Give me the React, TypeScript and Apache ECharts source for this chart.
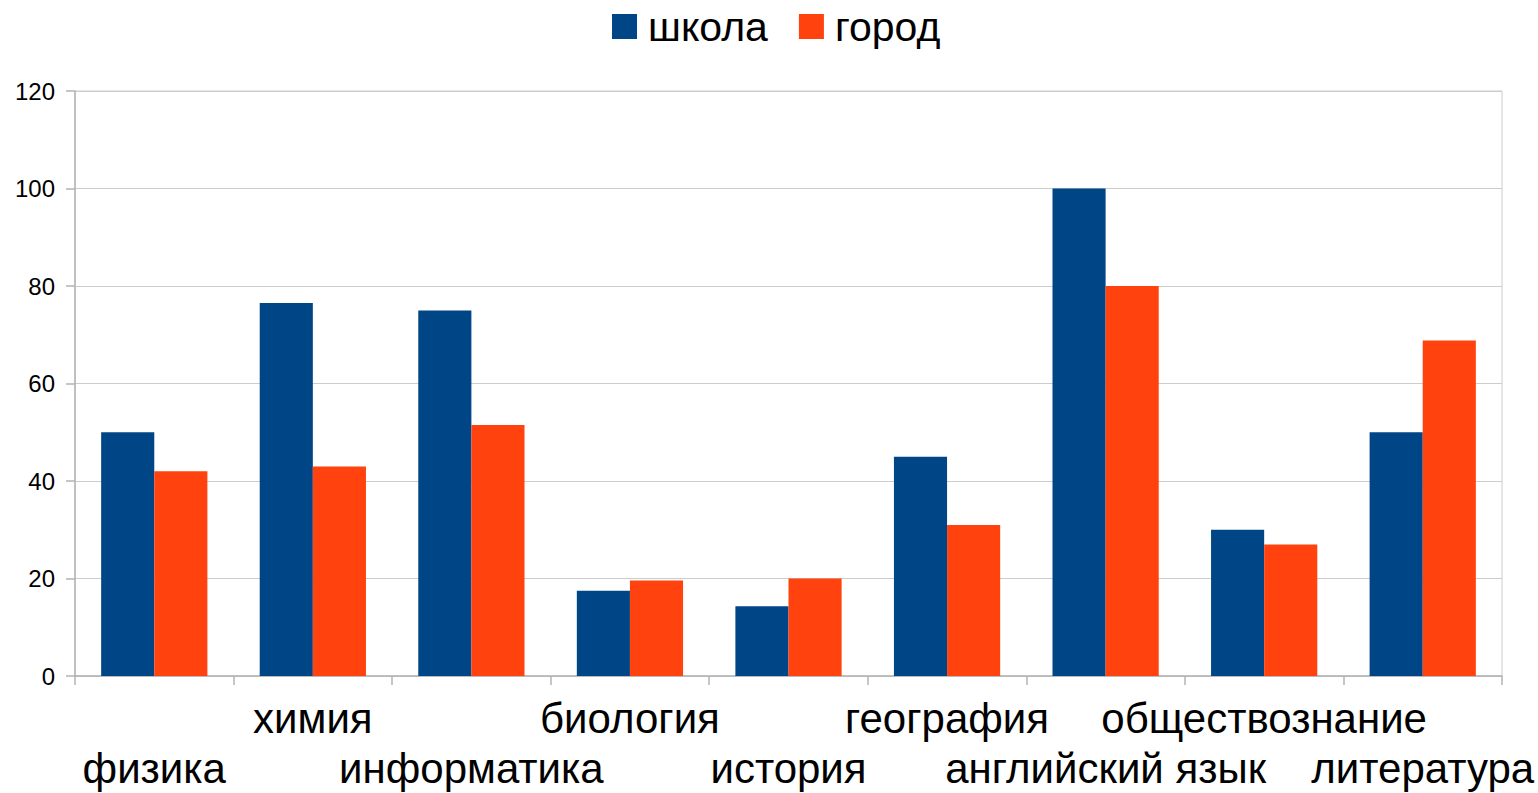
import React, { useEffect, useRef } from "react";
import * as echarts from "echarts";

const categories = [
  "физика",
  "химия",
  "информатика",
  "биология",
  "история",
  "география",
  "английский язык",
  "обществознание",
  "литература",
];
const schoolValues = [50, 76.5, 75, 17.5, 14.3, 45, 100, 30, 50];
const cityValues = [42, 43, 51.5, 19.6, 20, 31, 80, 27, 68.8];
const yTicks = [0, 20, 40, 60, 80, 100, 120];

export default function App() {
  const ref = useRef<HTMLDivElement>(null);
  useEffect(() => {
    document.body.style.margin = "0";
    const chart = echarts.init(ref.current!, null, { renderer: "svg" });
    chart.setOption({
      animation: false,
      textStyle: { fontFamily: "Liberation Sans" },
      legend: {
        top: 6,
        left: 612,
        padding: 0,
        itemWidth: 25,
        itemHeight: 25,
        itemGap: 31,
        icon: "rect",
        textStyle: { fontSize: 41, color: "#000", fontFamily: "Liberation Sans", padding: [0, 0, 0, 6] },
        data: ["школа", "город"],
      },
      grid: {
        left: 75,
        right: 36,
        top: 91,
        bottom: 114,
        show: true,
        borderColor: "#cccccc",
        borderWidth: 1,
      },
      xAxis: {
        type: "category",
        data: categories,
        axisLine: { lineStyle: { color: "#b3b3b3", width: 1.5 } },
        axisTick: { show: true, length: 9, lineStyle: { color: "#b3b3b3", width: 1.5 } },
        axisLabel: {
          interval: 0,
          hideOverlap: false,
          fontSize: 42,
          color: "#000",
          fontFamily: "Liberation Sans",
          lineHeight: 50,
          margin: 17,
          formatter: (v: string, i: number) => (i % 2 === 0 ? "\n" + v : v),
        },
      },
      yAxis: {
        type: "value",
        min: 0,
        max: 120,
        interval: 20,
        axisLine: { show: true, lineStyle: { color: "#b3b3b3", width: 1.5 } },
        axisTick: { show: true, length: 9, lineStyle: { color: "#b3b3b3", width: 1.5 } },
        splitLine: { lineStyle: { color: "#cccccc", width: 1 } },
        axisLabel: {
          fontSize: 24,
          color: "#000",
          fontFamily: "Liberation Sans",
          margin: 20,
          formatter: (v: number) => (yTicks.includes(v) ? String(v) : ""),
        },
      },
      series: [
        {
          name: "школа",
          type: "bar",
          data: schoolValues,
          itemStyle: { color: "#004586" },
          barGap: "0%",
          barCategoryGap: "33%",
        },
        {
          name: "город",
          type: "bar",
          data: cityValues,
          itemStyle: { color: "#ff420e" },
          barGap: "0%",
          barCategoryGap: "33%",
        },
      ],
    });
    return () => chart.dispose();
  }, []);
  return <div ref={ref} style={{ width: 1538, height: 793 }} />;
}
